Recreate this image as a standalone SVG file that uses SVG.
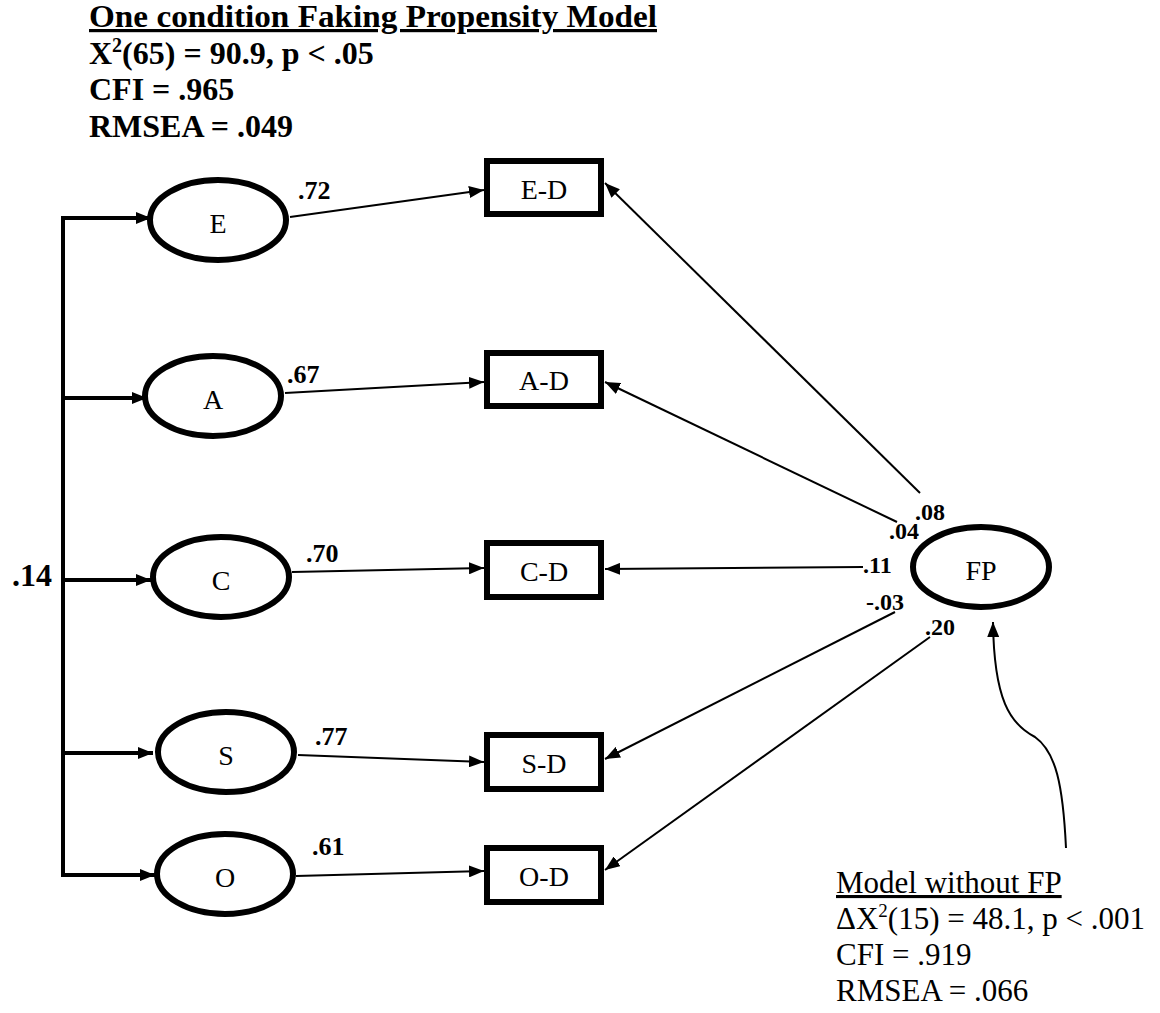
<svg xmlns="http://www.w3.org/2000/svg" width="1160" height="1013" viewBox="0 0 1160 1013">
<style>
text{font-family:"Liberation Serif","Times New Roman",serif;fill:#000}
.hd{font-size:32px;font-weight:bold}
.nt{font-size:31px}
.lb{font-size:26px;font-weight:bold}
.lf{font-size:24px;font-weight:bold}
.nl{font-size:28px;text-anchor:middle}
.ell{fill:#fff;stroke:#000;stroke-width:6}
.box{fill:#fff;stroke:#000;stroke-width:6}
.thin{fill:none;stroke:#000;stroke-width:2}
.bus{fill:none;stroke:#000;stroke-width:4}
</style>
<defs>
<marker id="ah" viewBox="0 0 15 12" markerWidth="15" markerHeight="12" refX="15" refY="6" orient="auto" markerUnits="userSpaceOnUse"><path d="M0,0 L15,6 L0,12 z" fill="#000"/></marker>
</defs>
<rect width="1160" height="1013" fill="#fff"/>
<g id="header">
<text class="hd" x="89" y="27" textLength="568" lengthAdjust="spacingAndGlyphs" text-decoration="underline">One condition Faking Propensity Model</text>
<text class="hd" x="89" y="64">X<tspan font-size="20" dy="-12">2</tspan><tspan dy="12">(65) = 90.9, p &lt; .05</tspan></text>
<text class="hd" x="89" y="100">CFI = .965</text>
<text class="hd" x="89" y="137">RMSEA = .049</text>
</g>
<g id="connectors">
<path class="bus" d="M63,216 V877"/>
<path class="bus" d="M61,218 H151" marker-end="url(#ah)"/>
<path class="bus" d="M61,398 H147" marker-end="url(#ah)"/>
<path class="bus" d="M61,580 H151" marker-end="url(#ah)"/>
<path class="bus" d="M61,753 H153" marker-end="url(#ah)"/>
<path class="bus" d="M61,875 H155" marker-end="url(#ah)"/>
<path class="thin" d="M290,217 L484,190" marker-end="url(#ah)"/>
<path class="thin" d="M285,393 L484,382" marker-end="url(#ah)"/>
<path class="thin" d="M292,572 L484,568" marker-end="url(#ah)"/>
<path class="thin" d="M298,755 L484,762" marker-end="url(#ah)"/>
<path class="thin" d="M296,876 L484,871" marker-end="url(#ah)"/>
<path class="thin" d="M920,493 L605,183" marker-end="url(#ah)"/>
<path class="thin" d="M897,522 L605,382" marker-end="url(#ah)"/>
<path class="thin" d="M863,567 L605,569" marker-end="url(#ah)"/>
<path class="thin" d="M895,612 L605,759" marker-end="url(#ah)"/>
<path class="thin" d="M930,637 L605,870" marker-end="url(#ah)"/>
<path class="thin" d="M1066,848 C1063,785 1056,752 1035,737 C1010,724 994,700 993,622" marker-end="url(#ah)"/>
<text class="lb" x="298" y="199">.72</text>
<text class="lb" x="287" y="383">.67</text>
<text class="lb" x="306" y="562">.70</text>
<text class="lb" x="315" y="745">.77</text>
<text class="lb" x="312" y="855">.61</text>
<text class="hd" x="12" y="586">.14</text>
<text class="lf" x="915" y="520">.08</text>
<text class="lf" x="889" y="539">.04</text>
<text class="lf" x="863" y="573">.11</text>
<text class="lf" x="866" y="610">-.03</text>
<text class="lf" x="925" y="635">.20</text>
</g>
<g id="node-E"><ellipse class="ell" cx="218" cy="220" rx="68" ry="40"/><text class="nl" x="218" y="233">E</text></g>
<g id="node-A"><ellipse class="ell" cx="213" cy="396" rx="68" ry="40"/><text class="nl" x="213" y="409">A</text></g>
<g id="node-C"><ellipse class="ell" cx="221" cy="577" rx="68" ry="40"/><text class="nl" x="221" y="590">C</text></g>
<g id="node-S"><ellipse class="ell" cx="226" cy="752" rx="68" ry="40"/><text class="nl" x="226" y="765">S</text></g>
<g id="node-O"><ellipse class="ell" cx="225" cy="874" rx="68" ry="40"/><text class="nl" x="225" y="887">O</text></g>
<g id="node-FP"><ellipse class="ell" cx="981" cy="567" rx="68" ry="40"/><text class="nl" x="981" y="580">FP</text></g>
<g id="node-ED"><rect class="box" x="487" y="161" width="114" height="53"/><text class="nl" x="544" y="199">E-D</text></g>
<g id="node-AD"><rect class="box" x="487" y="353" width="114" height="53"/><text class="nl" x="544" y="390">A-D</text></g>
<g id="node-CD"><rect class="box" x="487" y="543" width="114" height="54"/><text class="nl" x="544" y="581">C-D</text></g>
<g id="node-SD"><rect class="box" x="487" y="735" width="114" height="54"/><text class="nl" x="544" y="773">S-D</text></g>
<g id="node-OD"><rect class="box" x="487" y="848" width="114" height="54"/><text class="nl" x="544" y="886">O-D</text></g>
<g id="note">
<text class="nt" x="836" y="893" text-decoration="underline">Model without FP</text>
<text class="nt" x="836" y="929">ΔX<tspan font-size="19" dy="-12">2</tspan><tspan dy="12">(15) = 48.1, p &lt; .001</tspan></text>
<text class="nt" x="836" y="965">CFI = .919</text>
<text class="nt" x="836" y="1001">RMSEA = .066</text>
</g>
</svg>
